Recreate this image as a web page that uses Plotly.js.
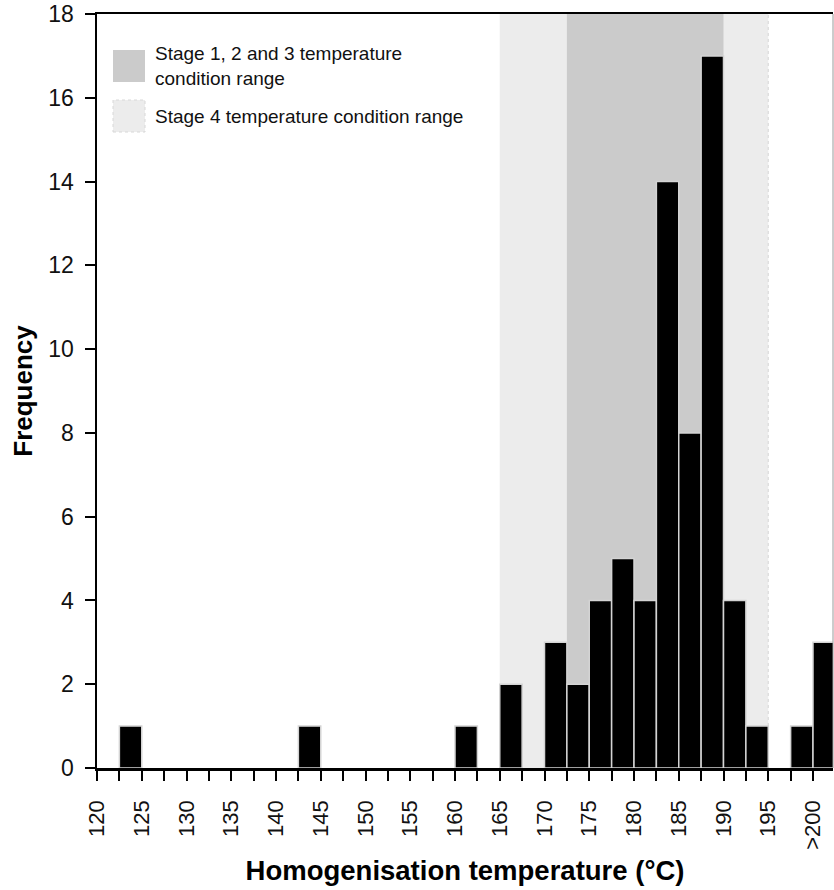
<!DOCTYPE html>
<html>
<head>
<meta charset="utf-8">
<script src="https://cdn.plot.ly/plotly-3.0.1.min.js"></script>
<style>
  html, body { margin: 0; padding: 0; background: #fff; }
  #chart { width: 834px; height: 890px; }
</style>
</head>
<body>
<div id="chart"></div>
<script>
// ---- data ----
const binStart = [122.5, 142.5, 160, 165, 170, 172.5, 175, 177.5, 180, 182.5, 185, 187.5, 190, 192.5, 197.5, 200];
const frequency = [1, 1, 1, 2, 3, 2, 4, 5, 4, 14, 8, 17, 4, 1, 1, 3];
const binWidth = 2.5;
const xTickVals = [120, 125, 130, 135, 140, 145, 150, 155, 160, 165, 170, 175, 180, 185, 190, 195, 200];
const xTickText = ['120', '125', '130', '135', '140', '145', '150', '155', '160', '165', '170', '175', '180', '185', '190', '195', '>200'];
const stage123Range = [172.5, 190];
const stage4Range = [165, 195];
const legendLabels = ['Stage 1, 2 and 3 temperature<br>condition range', 'Stage 4 temperature condition range'];

// ---- layout helpers (pixel -> paper) ----
const W = 834, H = 890;
const M = { l: 97, r: 1, t: 14, b: 122 };
const pw = W - M.l - M.r, ph = H - M.t - M.b;
const px = x => (x - M.l) / pw;
const py = y => (H - M.b - y) / ph;

const darkGrey = '#cbcbcb', lightGrey = '#ececec';
const font = 'Liberation Sans, Arial, sans-serif';

const trace = {
  type: 'bar',
  x: binStart.map(b => b + binWidth / 2),
  y: frequency,
  width: binStart.map(() => binWidth),
  marker: { color: '#000000', line: { color: '#d4d4d4', width: 1.5 } },
  showlegend: false,
  hoverinfo: 'x+y'
};

const shapes = [
  { type: 'rect', xref: 'x', yref: 'paper', x0: stage4Range[0], x1: stage4Range[1], y0: 0, y1: 1,
    fillcolor: lightGrey, line: { width: 0 }, layer: 'below' },
  { type: 'line', xref: 'x', yref: 'paper', x0: stage4Range[1], x1: stage4Range[1], y0: 0, y1: 1,
    line: { color: '#d6d6d6', width: 1, dash: 'dot' }, layer: 'below' },
  { type: 'rect', xref: 'x', yref: 'paper', x0: stage123Range[0], x1: stage123Range[1], y0: 0, y1: 1,
    fillcolor: darkGrey, line: { width: 0 }, layer: 'below' },
  // legend swatches
  { type: 'rect', xref: 'paper', yref: 'paper', x0: px(113), x1: px(145), y0: py(82), y1: py(50),
    fillcolor: darkGrey, line: { width: 0 } },
  { type: 'rect', xref: 'paper', yref: 'paper', x0: px(113), x1: px(145), y0: py(132), y1: py(100),
    fillcolor: lightGrey, line: { color: '#d8d8d8', width: 1, dash: 'dot' } },
  // right border (cropped)
  { type: 'line', xref: 'paper', yref: 'paper', x0: 1, x1: 1, y0: 0, y1: 1,
    line: { color: '#9a9a9a', width: 1 } }
];

const annotations = [
  { xref: 'paper', yref: 'paper', x: px(153), y: py(66), xanchor: 'left', yanchor: 'middle',
    text: legendLabels[0], showarrow: false, align: 'left',
    font: { family: font, size: 19, color: '#111' } },
  { xref: 'paper', yref: 'paper', x: px(153), y: py(116), xanchor: 'left', yanchor: 'middle',
    text: legendLabels[1], showarrow: false, align: 'left',
    font: { family: font, size: 19, color: '#111' } }
];

const layout = {
  width: W, height: H,
  margin: M,
  paper_bgcolor: '#ffffff',
  plot_bgcolor: '#ffffff',
  font: { family: font, color: '#000' },
  bargap: 0,
  xaxis: {
    range: [120, 120 + pw / 8.95],
    tickmode: 'array',
    tickvals: xTickVals,
    ticktext: xTickText,
    tickangle: -90,
    ticks: 'outside', ticklen: 10, tickwidth: 2, tickcolor: '#000',
    minor: { tickmode: 'linear', tick0: 120, dtick: 2.5, ticks: 'outside', ticklen: 10, tickwidth: 2, tickcolor: '#000' },
    ticklabelstandoff: 11,
    tickfont: { family: font, size: 22, color: '#111' },
    showline: true, linecolor: '#000', linewidth: 2.5, mirror: true,
    showgrid: false, zeroline: false,
    title: { text: 'Homogenisation temperature (°C)', standoff: 12,
             font: { family: font, size: 27.5, weight: 'bold', color: '#000' } }
  },
  yaxis: {
    range: [0, 18],
    tickmode: 'linear', tick0: 0, dtick: 2,
    ticks: 'outside', ticklen: 10, tickwidth: 2, tickcolor: '#000',
    ticklabelstandoff: 6,
    tickfont: { family: font, size: 23, color: '#111' },
    showline: true, linecolor: '#000', linewidth: 2.5,
    showgrid: false, zeroline: false,
    title: { text: 'Frequency', standoff: 8,
             font: { family: font, size: 26, weight: 'bold', color: '#000' } }
  },
  shapes: shapes,
  annotations: annotations
};

Plotly.newPlot('chart', [trace], layout, { displayModeBar: false, staticPlot: true });
</script>
</body>
</html>
